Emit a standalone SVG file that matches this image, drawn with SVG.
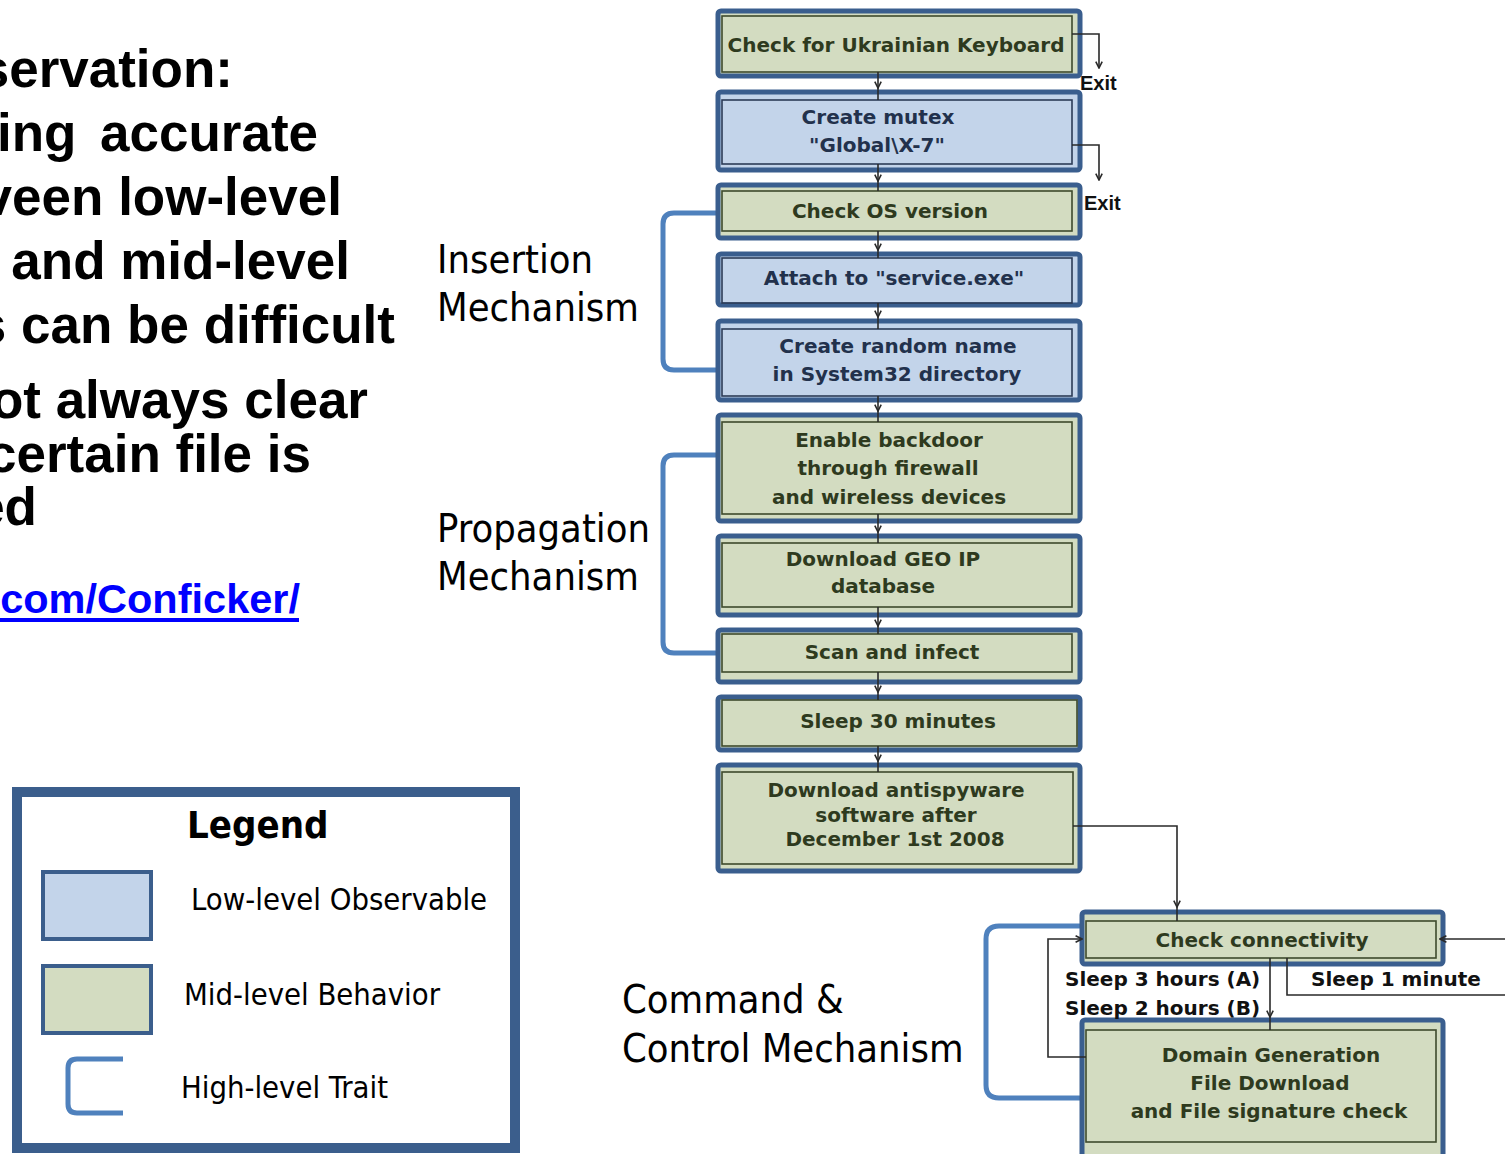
<svg xmlns="http://www.w3.org/2000/svg" width="1505" height="1154" viewBox="0 0 1505 1154">
  <defs>
    <style>
      .og { fill:#d3dcc1; stroke:#3a5e8e; stroke-width:5; }
      .ob { fill:#c3d4ea; stroke:#3a5e8e; stroke-width:5; }
      .ig { fill:none; stroke:#3e4a2c; stroke-width:1.6; }
      .ib { fill:none; stroke:#2c3b57; stroke-width:1.6; }
      .tg { font-family:'DejaVu Sans', sans-serif; font-weight:bold; font-size:20px; fill:#2e3a1e; text-anchor:middle; }
      .tb { font-family:'DejaVu Sans', sans-serif; font-weight:bold; font-size:20px; fill:#22314c; text-anchor:middle; }
      .note { font-family:'DejaVu Sans', sans-serif; font-weight:bold; font-size:20px; fill:#111; }
      .exit { font-family:'Liberation Sans', Arial, sans-serif; font-weight:bold; font-size:20px; fill:#111; }
      .conn { fill:none; stroke:#2a2a2a; stroke-width:1.6; }
      .bracket { fill:none; stroke:#4f81bd; stroke-width:5; stroke-linecap:butt; }
      .label { font-family:'DejaVu Sans Condensed', 'DejaVu Sans', sans-serif; font-stretch:condensed; font-size:39.5px; fill:#000; }
      .slide { font-family:'Liberation Sans', Arial, sans-serif; font-weight:bold; font-size:53px; fill:#000; text-anchor:end; }
      .link { font-family:'Liberation Sans', Arial, sans-serif; font-weight:bold; font-size:41.5px; fill:#0000ff; text-anchor:end; }
      .legend-t { font-family:'DejaVu Sans Condensed', 'DejaVu Sans', sans-serif; font-stretch:condensed; font-size:30.7px; fill:#000; }
    </style>
    <marker id="ah" viewBox="0 0 10 10" refX="9" refY="5" markerWidth="8" markerHeight="8" markerUnits="userSpaceOnUse" orient="auto">
      <path d="M1,1 L9,5 L1,9" fill="none" stroke="#2a2a2a" stroke-width="2"/>
    </marker>
  </defs>

  <rect width="1505" height="1154" fill="#fff"/>

  <!-- slide body text, clipped at the left edge -->
  <g id="slide-text">
    <text class="slide" x="233" y="87">servation:</text>
    <text class="slide" x="-3" y="151" style="text-anchor:start">ing<tspan x="100">accurate</tspan></text>
    <text class="slide" x="342" y="215">veen low-level</text>
    <text class="slide" x="350" y="279">and mid-level</text>
    <text class="slide" x="395" y="343">s can be difficult</text>
    <text class="slide" x="368" y="418">ot always clear</text>
    <text class="slide" x="311" y="472">certain file is</text>
    <text class="slide" x="37" y="525">ed</text>
    <text class="link" x="300" y="613">com/Conficker/</text>
    <rect x="0" y="618" width="299" height="4" fill="#0000ff"/>
  </g>

  <!-- trait labels -->
  <g id="trait-insertion">
    <text class="label" x="437" y="273">Insertion</text>
    <text class="label" x="437" y="321">Mechanism</text>
  </g>
  <g id="trait-propagation">
    <text class="label" x="437" y="542">Propagation</text>
    <text class="label" x="437" y="590">Mechanism</text>
  </g>
  <g id="trait-cc">
    <text class="label" x="622" y="1013">Command &amp;</text>
    <text class="label" x="622" y="1062">Control Mechanism</text>
  </g>

  <!-- trait brackets -->
  <g id="brackets">
    <path class="bracket" d="M716,213 H674 Q663,213 663,224 V359 Q663,370 674,370 H716"/>
    <path class="bracket" d="M716,455 H674 Q663,455 663,466 V642 Q663,653 674,653 H716"/>
    <path class="bracket" d="M1080,926 H999 Q986,926 986,939 V1085 Q986,1098 999,1098 H1080"/>
  </g>

  <!-- flow nodes -->
  <g id="n-keyboard">
    <rect class="og" x="718" y="11" width="362" height="65" rx="3"/>
    <rect class="ig" x="722" y="16" width="350" height="56"/>
    <text class="tg" x="896" y="52">Check for Ukrainian Keyboard</text>
  </g>
  <g id="n-mutex">
    <rect class="ob" x="718" y="92" width="362" height="78" rx="3"/>
    <rect class="ib" x="722" y="100" width="350" height="64"/>
    <text class="tb" x="878" y="124">Create mutex</text>
    <text class="tb" x="877" y="152">"Global\X-7"</text>
  </g>
  <g id="n-osversion">
    <rect class="og" x="718" y="185" width="362" height="53" rx="3"/>
    <rect class="ig" x="722" y="191" width="350" height="40"/>
    <text class="tg" x="890" y="218">Check OS version</text>
  </g>
  <g id="n-attach">
    <rect class="ob" x="718" y="254" width="362" height="51" rx="3"/>
    <rect class="ib" x="722" y="258" width="350" height="45"/>
    <text class="tb" x="894" y="285">Attach to "service.exe"</text>
  </g>
  <g id="n-randomname">
    <rect class="ob" x="718" y="321" width="362" height="79" rx="3"/>
    <rect class="ib" x="722" y="329" width="350" height="67"/>
    <text class="tb" x="898" y="353">Create random name</text>
    <text class="tb" x="897" y="381">in System32 directory</text>
  </g>
  <g id="n-backdoor">
    <rect class="og" x="718" y="415" width="362" height="106" rx="3"/>
    <rect class="ig" x="722" y="422" width="350" height="92"/>
    <text class="tg" x="889" y="447">Enable backdoor</text>
    <text class="tg" x="888" y="475">through firewall</text>
    <text class="tg" x="889" y="504">and wireless devices</text>
  </g>
  <g id="n-geoip">
    <rect class="og" x="718" y="536" width="362" height="79" rx="3"/>
    <rect class="ig" x="722" y="543" width="350" height="64"/>
    <text class="tg" x="883" y="566">Download GEO IP</text>
    <text class="tg" x="883" y="593">database</text>
  </g>
  <g id="n-scan">
    <rect class="og" x="718" y="630" width="362" height="52" rx="3"/>
    <rect class="ig" x="722" y="634" width="350" height="38"/>
    <text class="tg" x="892" y="659">Scan and infect</text>
  </g>
  <g id="n-sleep30">
    <rect class="og" x="718" y="697" width="362" height="53" rx="3"/>
    <rect class="ig" x="722" y="700" width="355" height="46"/>
    <text class="tg" x="898" y="728">Sleep 30 minutes</text>
  </g>
  <g id="n-antispyware">
    <rect class="og" x="718" y="765" width="362" height="106" rx="3"/>
    <rect class="ig" x="722" y="772" width="351" height="92"/>
    <text class="tg" x="896" y="797">Download antispyware</text>
    <text class="tg" x="896" y="822">software after</text>
    <text class="tg" x="895" y="846">December 1st 2008</text>
  </g>
  <g id="n-connectivity">
    <rect class="og" x="1082" y="912" width="361" height="52" rx="3"/>
    <rect class="ig" x="1086" y="921" width="350" height="37"/>
    <text class="tg" x="1262" y="947">Check connectivity</text>
  </g>
  <g id="n-domaingen">
    <rect class="og" x="1082" y="1020" width="361" height="150" rx="3"/>
    <rect class="ig" x="1086" y="1030" width="350" height="112"/>
    <text class="tg" x="1271" y="1062">Domain Generation</text>
    <text class="tg" x="1270" y="1090">File Download</text>
    <text class="tg" x="1269" y="1118">and File signature check</text>
  </g>

  <!-- connectors -->
  <g id="connectors">
    <path class="conn" marker-mid="url(#ah)" d="M878,72 V88 V100"/>
    <path class="conn" marker-mid="url(#ah)" d="M878,164 V181 V191"/>
    <path class="conn" marker-mid="url(#ah)" d="M878,231 V250 V258"/>
    <path class="conn" marker-mid="url(#ah)" d="M878,303 V317 V329"/>
    <path class="conn" marker-mid="url(#ah)" d="M878,396 V411 V422"/>
    <path class="conn" marker-mid="url(#ah)" d="M878,514 V532 V543"/>
    <path class="conn" marker-mid="url(#ah)" d="M878,607 V626 V634"/>
    <path class="conn" marker-mid="url(#ah)" d="M878,672 V692 V700"/>
    <path class="conn" marker-mid="url(#ah)" d="M878,746 V761 V772"/>

    <path class="conn" marker-end="url(#ah)" d="M1072,34 H1099 V68"/>
    <path class="conn" marker-end="url(#ah)" d="M1072,145 H1099 V180"/>

    <path class="conn" marker-end="url(#ah)" d="M1073,826 H1177 V907"/>
    <path class="conn" d="M1177,907 V921"/>

    <path class="conn" marker-mid="url(#ah)" d="M1270,958 V1017 V1030"/>
    <path class="conn" d="M1287,958 V995 H1505"/>
    <path class="conn" marker-end="url(#ah)" d="M1505,939 H1440"/>
    <path class="conn" marker-end="url(#ah)" d="M1086,1057 H1048 V939 H1082"/>

    <text class="exit" x="1080" y="90">Exit</text>
    <text class="exit" x="1084" y="210">Exit</text>
    <text class="note" x="1065" y="986">Sleep 3 hours (A)</text>
    <text class="note" x="1065" y="1015">Sleep 2 hours (B)</text>
    <text class="note" x="1311" y="986">Sleep 1 minute</text>
  </g>

  <!-- legend -->
  <g id="legend">
    <rect x="17" y="792" width="498" height="356" fill="#fff" stroke="#3b5e8c" stroke-width="10"/>
    <text x="187" y="838" style="font-family:'DejaVu Sans Condensed','DejaVu Sans',sans-serif; font-stretch:condensed; font-weight:bold; font-size:38px; fill:#000">Legend</text>
    <rect x="43" y="872" width="108" height="67" fill="#c3d4ea" stroke="#3b5e8c" stroke-width="4"/>
    <text class="legend-t" x="191" y="910">Low-level Observable</text>
    <rect x="43" y="966" width="108" height="67" fill="#d3dcc1" stroke="#3b5e8c" stroke-width="4"/>
    <text class="legend-t" x="184" y="1005">Mid-level Behavior</text>
    <path class="bracket" d="M123,1059 H77 Q68,1059 68,1068 V1104 Q68,1113 77,1113 H123"/>
    <text class="legend-t" x="181" y="1098">High-level Trait</text>
  </g>
</svg>
